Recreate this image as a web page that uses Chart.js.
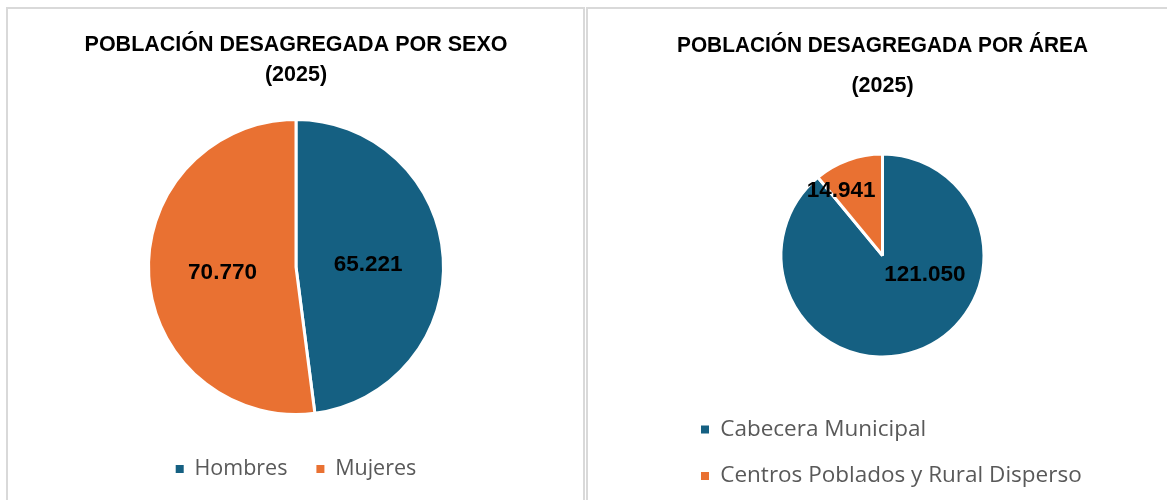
<!DOCTYPE html>
<html>
<head>
<meta charset="utf-8">
<title>Población desagregada 2025</title>
<script src="https://cdn.jsdelivr.net/npm/chart.js@4.4.1/dist/chart.umd.min.js"></script>
<style>
  html, body { margin: 0; padding: 0; background: #fff; overflow: hidden; }
  #wrap { position: relative; width: 1167px; height: 500px; overflow: hidden; }
  .panel { position: absolute; top: 7px; height: 540px; box-sizing: border-box; border-top: 2px solid #d9d9d9; }
  #panelSexo { left: 6px; width: 579px; border-left: 2px solid #d9d9d9; border-right: 2px solid #d9d9d9; }
  #panelArea { left: 586px; width: 581px; border-left: 2px solid #d9d9d9; }
  canvas { position: absolute; top: 8px; }
  #chartSexo { left: 8px; }
  #chartArea { left: 588px; }
</style>
</head>
<body>
<div id="wrap">
  <div class="panel" id="panelSexo"></div>
  <div class="panel" id="panelArea"></div>
  <canvas id="chartSexo" width="576" height="502"></canvas>
  <canvas id="chartArea" width="579" height="502"></canvas>
</div>
<script>
// datos
const sexoLabels = ['Hombres', 'Mujeres'];
const sexoValues = [65221, 70770];
const areaLabels = ['Cabecera Municipal', 'Centros Poblados y Rural Disperso'];
const areaValues = [121050, 14941];
const sexoTitle = ['POBLACIÓN DESAGREGADA POR SEXO', '(2025)'];
const areaTitle = ['POBLACIÓN DESAGREGADA POR ÁREA', '(2025)'];
const sliceColors = ['#156082', '#E97132'];

const boldFont = '"Liberation Sans", Arial, sans-serif';
const legendFont = '"Open Sans", "Noto Sans", sans-serif';

// 65221 -> "65.221"
function fmtNum(v) {
  return String(v).replace(/\B(?=(\d{3})+(?!\d))/g, '.');
}

// etiquetas de datos dentro de cada sector
const sliceLabels = {
  id: 'sliceLabels',
  afterDatasetsDraw(chart, args, opts) {
    const ctx = chart.ctx;
    const meta = chart.getDatasetMeta(0);
    const values = chart.data.datasets[0].data;
    const nudges = opts.nudges || [];
    ctx.save();
    ctx.font = 'bold 22.5px ' + boldFont;
    ctx.fillStyle = '#000';
    ctx.textAlign = 'center';
    ctx.textBaseline = 'middle';
    meta.data.forEach(function (arc, i) {
      const p = arc.getProps(['x', 'y', 'startAngle', 'endAngle', 'outerRadius'], true);
      let mid = (p.startAngle + p.endAngle) / 2;
      let dist = 0.5;
      if (nudges[i]) {
        mid += nudges[i].angle * Math.PI / 180;
        dist = nudges[i].dist;
      }
      const x = p.x + Math.cos(mid) * dist * p.outerRadius;
      const y = p.y + Math.sin(mid) * dist * p.outerRadius;
      ctx.fillText(fmtNum(values[i]), x, y);
    });
    ctx.restore();
  }
};

// cuadritos de leyenda sin el borde blanco de los sectores
function legendItems(chart) {
  const ds = chart.data.datasets[0];
  return chart.data.labels.map(function (text, i) {
    return {
      text: text,
      fillStyle: ds.backgroundColor[i],
      strokeStyle: ds.backgroundColor[i],
      lineWidth: 0,
      fontColor: '#595959',
      hidden: false,
      index: i
    };
  });
}

function makePie(canvasId, labels, values, title, opt) {
  return new Chart(document.getElementById(canvasId).getContext('2d'), {
    type: 'pie',
    data: {
      labels: labels,
      datasets: [{
        data: values,
        backgroundColor: sliceColors,
        borderColor: '#ffffff',
        borderWidth: 3,
        radius: opt.radius
      }]
    },
    plugins: [sliceLabels],
    options: {
      responsive: false,
      animation: false,
      events: [],
      layout: { padding: opt.padding },
      plugins: {
        tooltip: { enabled: false },
        title: {
          display: true,
          text: title,
          color: '#000000',
          font: { family: boldFont, size: 21.5, weight: 'bold', lineHeight: opt.titleLine },
          padding: opt.titlePad
        },
        legend: {
          display: true,
          position: 'bottom',
          align: opt.legendAlign,
          labels: {
            boxWidth: 8,
            boxHeight: 8,
            padding: opt.legendPad,
            color: '#595959',
            font: { family: legendFont, size: opt.legendSize },
            generateLabels: legendItems
          }
        },
        sliceLabels: { nudges: opt.nudges }
      }
    }
  });
}

makePie('chartSexo', sexoLabels, sexoValues, sexoTitle, {
  radius: 147.5,
  padding: { left: 0, right: 0, top: 0, bottom: 20.25 },
  titleLine: '30px',
  titlePad: { top: 22.5, bottom: 14.25 },
  legendAlign: 'center',
  legendPad: 29,
  legendSize: 21.5,
  nudges: [{ angle: 1.6, dist: 0.49 }, { angle: -1.2, dist: 0.5 }]
});

makePie('chartArea', areaLabels, areaValues, areaTitle, {
  radius: 101.5,
  padding: { left: 89, right: 79, top: 0, bottom: 12.75 },
  titleLine: '39.5px',
  titlePad: { top: 18.75, bottom: 11 },
  legendAlign: 'start',
  legendPad: 24,
  legendSize: 22.5,
  nudges: [{ angle: -45.6, dist: 0.46 }, { angle: -12.6, dist: 0.76 }]
});
</script>
</body>
</html>
